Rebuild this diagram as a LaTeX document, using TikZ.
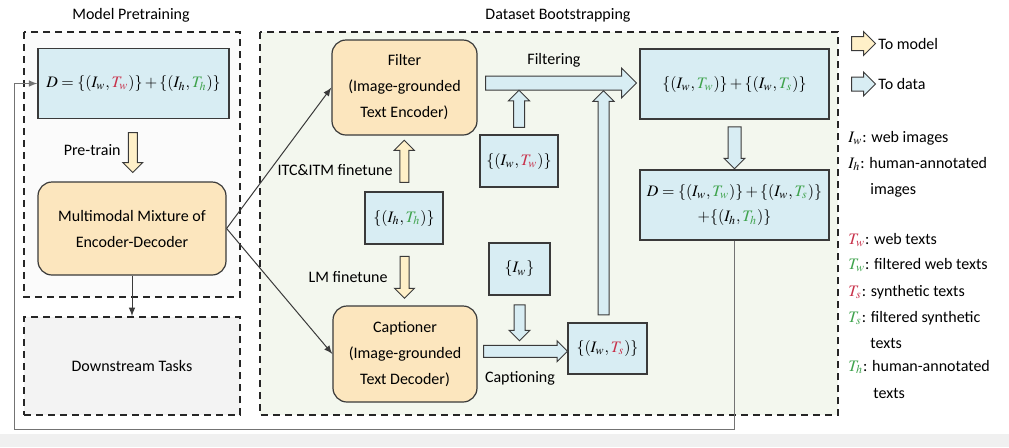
\documentclass[tikz,border=0pt]{standalone}
\usepackage{mathptmx}
\usepackage{fontspec}
\setmainfont{Carlito}
\usetikzlibrary{shapes.arrows,calc}

\definecolor{modelfill}{HTML}{FCE6BE}
\definecolor{modelarrow}{HTML}{FFF0C8}
\definecolor{datafill}{HTML}{D8EDF3}
\definecolor{bootfill}{HTML}{F3F7EE}
\definecolor{prefill}{HTML}{FBFBFB}
\definecolor{taskfill}{HTML}{F3F3F3}
\definecolor{webred}{HTML}{C8324B}
\definecolor{filtgreen}{HTML}{3FA34D}
\definecolor{edge}{HTML}{3A3A3A}

\newcommand{\colR}[1]{\textcolor{webred}{#1}}
\newcommand{\colG}[1]{\textcolor{filtgreen}{#1}}

\tikzset{
  lbl/.style={font=\fontsize{8}{13}\selectfont, inner sep=0pt},
  legend/.style={lbl, anchor=west},
  databox/.style={lbl, draw=edge, line width=0.6pt, fill=datafill, align=center},
  modelbox/.style={lbl, draw=edge, line width=0.6pt, fill=modelfill, rounded corners=7pt, align=center},
  frame/.style={draw=black!85, line width=0.8pt, dash pattern=on 3.5pt off 2.5pt},
  fat/.style={single arrow, draw=edge, line width=0.5pt, inner xsep=0pt, inner ysep=2.5pt, single arrow head extend=2.5pt},
  toModel/.style={fat, fill=modelarrow},
  toData/.style={fat, fill=datafill},
}

\begin{document}
\begin{tikzpicture}[>=latex, x=0.5pt, y=-0.5pt]
  \useasboundingbox (0,0) rectangle (1009,447);
  \fill[white] (0,0) rectangle (1009,447);
  \fill[black!6] (0,434) rectangle (1009,447);

  \draw[frame, fill=prefill] (24,32) rectangle (240,297);
  \draw[frame, fill=bootfill] (260,32) rectangle (838,415);

  \node[lbl] (pretitle) at (131,15) {Model Pretraining};
  \node[lbl] (boottitle) at (558,15) {Dataset Bootstrapping};

  \node[databox, minimum width=95.5pt, minimum height=35pt] (dpre) at (133.5,83.5)
    {$D=\{(I_w,\colR{T_w})\}+\{(I_h,\colG{T_h})\}$};
  \node[modelbox, minimum width=94pt, minimum height=46.5pt] (mmed) at (132,228.5)
    {Multimodal Mixture of\\Encoder-Decoder};
  \node[lbl, frame, fill=taskfill, minimum width=108pt, minimum height=49pt] (tasks) at (132,366)
    {Downstream Tasks};

  \node[modelbox, minimum width=72.5pt, minimum height=47.5pt] (filter) at (404.5,87.5)
    {Filter\\(Image-grounded\\Text Encoder)};
  \node[modelbox, minimum width=72pt, minimum height=48pt] (capt) at (405,354)
    {Captioner\\(Image-grounded\\Text Decoder)};

  \node[databox, minimum width=39pt, minimum height=26pt] (hh) at (404,218) {$\{(I_h,\colG{T_h})\}$};
  \node[databox, minimum width=39pt, minimum height=26pt] (ww) at (519,161) {$\{(I_w,\colR{T_w})\}$};
  \node[databox, minimum width=30.5pt, minimum height=26pt] (iw) at (519.5,269) {$\{I_w\}$};
  \node[databox, minimum width=39.5pt, minimum height=25.5pt] (ws) at (607.5,348.5) {$\{(I_w,\colR{T_s})\}$};

  \node[databox, minimum width=94.5pt, minimum height=35pt] (mix) at (734.5,84)
    {$\{(I_w,\colG{T_w})\}+\{(I_w,\colG{T_s})\}$};
  \node[databox, minimum width=94.5pt, minimum height=35pt] (dfin) at (734.5,205)
    {$D=\{(I_w,\colG{T_w})\}+\{(I_w,\colG{T_s})\}$\\[-0.5pt]$+\{(I_h,\colG{T_h})\}$};

  \node[toModel, rotate=-90, minimum height=20pt, inner ysep=2pt, single arrow head extend=2.75pt] (arPre) at ($(dpre.south)!.5!(mmed.north)$) {};
  \node[lbl, anchor=east] (preLbl) at (121,150) {Pre-train};
  \node[toModel, rotate=90, minimum height=21pt, inner ysep=2pt, single arrow head extend=2.75pt] (arItc) at ($(hh.north)!.5!(filter.south)$) {};
  \node[lbl, anchor=east] (itcLbl) at (393,170) {ITC\&ITM finetune};
  \node[toModel, rotate=-90, minimum height=21pt, inner ysep=2pt, single arrow head extend=2.75pt] (arLm) at ($(hh.south)!.5!(capt.north)$) {};
  \node[lbl, anchor=east] (lmLbl) at (388,277) {LM finetune};

  \node[toData, minimum height=75.5pt, inner ysep=3.25pt, single arrow head extend=4pt] (arFilt) at (557.5,83) {};
  \node[lbl] (filtLbl) at (554,60) {Filtering};
  \node[toData, rotate=90, minimum height=18.5pt] (arWw) at (519,111.5) {};
  \node[toData, rotate=90, minimum height=112pt] (arUp) at (603.5,205.5) {};
  \node[toData, rotate=-90, minimum height=18pt] (arIw) at (519.5,320) {};
  \node[toData, minimum height=42pt, inner ysep=2.75pt, single arrow head extend=2.25pt] (arCapt) at ($(capt.east)!.5!(ws.west)$) {};
  \node[lbl] (captLbl) at (520,378) {Captioning};
  \node[toData, rotate=-90, minimum height=21pt, inner ysep=3pt, single arrow head extend=2pt] (arMix) at ($(mix.south)!.5!(dfin.north)$) {};

  \draw[->, edge, line width=0.5pt] (mmed.east) -- (filter.west);
  \draw[->, edge, line width=0.5pt] (mmed.east) -- (capt.west);
  \draw[->, edge, line width=0.5pt] (mmed.south) -- (tasks.north);
  \draw[->, black!55, line width=0.5pt] (dfin.south) |- (14,429) |- (dpre.west);

  \node[toModel, minimum height=12pt, inner ysep=3.25pt, single arrow head extend=2.5pt] (keyModel) at (860,43.5) {};
  \node[legend] (keyModelLbl) at (878,43.5) {To model};
  \node[toData, minimum height=12pt, inner ysep=3.25pt, single arrow head extend=2.5pt] (keyData) at (860,84) {};
  \node[legend] (keyDataLbl) at (878,84) {To data};

  \node[legend] (lIw) at (848,138) {$I_w$: web images};
  \node[legend] (lIh) at (848,164) {$I_h$: human-annotated};
  \node[legend] (lIh2) at (870,190) {images};
  \node[legend] (lTw) at (848,240) {$\colR{T_w}$: web texts};
  \node[legend] (lTwf) at (848,265) {$\colG{T_w}$: filtered web texts};
  \node[legend] (lTs) at (848,292) {$\colR{T_s}$: synthetic texts};
  \node[legend] (lTsf) at (848,318) {$\colG{T_s}$: filtered synthetic};
  \node[legend] (lTsf2) at (870,343) {texts};
  \node[legend] (lTh) at (848,367) {$\colG{T_h}$: human-annotated};
  \node[legend] (lTh2) at (873,393) {texts};
\end{tikzpicture}
\end{document}
